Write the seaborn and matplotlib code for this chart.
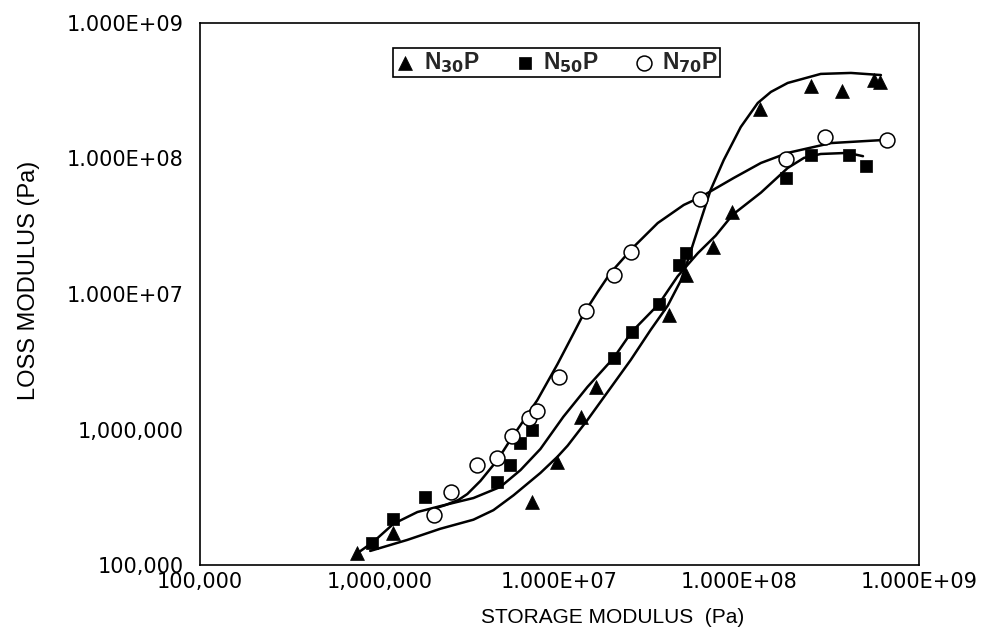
import numpy as np
import pandas as pd
import matplotlib
matplotlib.use("Agg")
import matplotlib.pyplot as plt
import seaborn as sns
from matplotlib.ticker import FixedLocator, FixedFormatter, NullLocator

# ---------------- data ----------------
tick_values = [1e5, 1e6, 1e7, 1e8, 1e9]
tick_labels = ["100,000", "1,000,000", "1.000E+07", "1.000E+08", "1.000E+09"]

series_names = [r"N$_{30}$P", r"N$_{50}$P", r"N$_{70}$P"]

# N30P measured points
n30_x = [7.5e5, 1.19e6, 7.05e6, 9.7e6, 1.31e7, 1.59e7, 4.06e7, 5.04e7, 7.1e7, 9.16e7,
         1.31e8, 2.5e8, 3.71e8, 5.6e8, 6.1e8]
n30_y = [1.23e5, 1.73e5, 2.93e5, 5.78e5, 1.24e6, 2.07e6, 7.0e6, 1.38e7, 2.23e7, 4.05e7,
         2.31e8, 3.43e8, 3.16e8, 3.8e8, 3.69e8]

# N50P measured points
n50_x = [9.06e5, 1.19e6, 1.79e6, 4.5e6, 5.33e6, 6.01e6, 7.05e6, 2.0e7, 2.52e7, 3.57e7,
         4.62e7, 5.04e7, 1.82e8, 2.5e8, 4.06e8, 5.07e8]
n50_y = [1.46e5, 2.17e5, 3.19e5, 4.12e5, 5.47e5, 7.9e5, 9.9e5, 3.35e6, 5.27e6, 8.44e6,
         1.64e7, 2.0e7, 7.22e7, 1.06e8, 1.06e8, 8.8e7]

# N70P measured points
n70_x = [2.01e6, 2.49e6, 3.48e6, 4.5e6, 5.46e6, 6.75e6, 7.5e6, 9.9e6, 1.40e7, 2.0e7,
         2.51e7, 6.05e7, 1.82e8, 3.0e8, 6.6e8]
n70_y = [2.34e5, 3.47e5, 5.47e5, 6.12e5, 8.95e5, 1.21e6, 1.38e6, 2.43e6, 7.53e6, 1.38e7,
         2.05e7, 5.0e7, 1.0e8, 1.45e8, 1.37e8]

# fitted curves
n30_curve_x = [8.85e5, 1.42e6, 2.17e6, 3.32e6, 4.29e6, 5.55e6, 7.83e6, 9.75e6, 1.11e7, 1.43e7,
               1.92e7, 2.49e7, 3.21e7, 4.0e7, 4.72e7, 5.16e7, 5.88e7, 6.93e7, 8.2e7, 1.019e8,
               1.268e8, 1.5e8, 1.86e8, 2.84e8, 4.18e8, 6.14e8]
n30_curve_y = [1.27e5, 1.53e5, 1.85e5, 2.16e5, 2.54e5, 3.27e5, 4.78e5, 6.3e5, 7.6e5, 1.175e6,
               2.02e6, 3.26e6, 5.42e6, 8.2e6, 1.25e7, 1.75e7, 3.0e7, 5.86e7, 9.75e7, 1.706e8,
               2.57e8, 3.1e8, 3.61e8, 4.21e8, 4.28e8, 4.13e8]

n50_curve_x = [7.3e5, 9.2e5, 1.19e6, 1.62e6, 2.17e6, 2.7e6, 3.32e6, 4.69e6, 6.07e6, 7.83e6,
               1.05e7, 1.43e7, 2.0e7, 2.52e7, 3.57e7, 4.54e7, 5.88e7, 7.4e7, 9.2e7, 1.32e8,
               1.86e8, 2.29e8, 2.84e8, 4.02e8, 4.88e8]
n50_curve_y = [1.19e5, 1.48e5, 2.01e5, 2.46e5, 2.72e5, 2.92e5, 3.12e5, 3.77e5, 5.02e5, 7.18e5,
               1.24e6, 2.06e6, 3.37e6, 5.25e6, 8.43e6, 1.35e7, 2.0e7, 2.7e7, 3.85e7, 5.6e7,
               8.51e7, 1.01e8, 1.08e8, 1.10e8, 1.04e8]

n70_curve_x = [1.91e6, 2.32e6, 2.74e6, 3.07e6, 3.63e6, 4.52e6, 5.33e6, 6.07e6, 7.53e6, 9.75e6,
               1.2e7, 1.36e7, 1.63e7, 1.92e7, 2.58e7, 3.52e7, 4.91e7, 6.11e7, 9.31e7, 1.32e8,
               1.86e8, 3.24e8, 6.38e8]
n70_curve_y = [2.55e5, 2.77e5, 3.02e5, 3.34e5, 4.17e5, 5.96e5, 8.38e5, 1.079e6, 1.65e6, 3.04e6,
               5.15e6, 7.11e6, 1.035e7, 1.43e7, 2.22e7, 3.34e7, 4.54e7, 5.2e7, 7.18e7, 9.27e7,
               1.1e8, 1.3e8, 1.37e8]

# ---------------- styling ----------------
sns.set_theme(style="white")
plt.rcParams['font.family'] = ['Liberation Sans', 'DejaVu Sans']
plt.rcParams['mathtext.fontset'] = 'custom'
plt.rcParams['mathtext.rm'] = 'DejaVu Sans:bold'
plt.rcParams['mathtext.default'] = 'rm'

fig = plt.figure(figsize=(9.87, 6.41), dpi=100)
fig.patch.set_facecolor('white')
ax = fig.add_axes([200 / 987, 1 - 565 / 641, 719 / 987, 542 / 641])
ax.set_xscale('log')
ax.set_yscale('log')

curves = [(n30_curve_x, n30_curve_y), (n50_curve_x, n50_curve_y), (n70_curve_x, n70_curve_y)]
for cx, cy in curves:
    sns.lineplot(x=cx, y=cy, sort=False, estimator=None, color='black', lw=1.8, ax=ax, zorder=2)

sns.scatterplot(x=n30_x, y=n30_y, marker='^', s=100, color='black', edgecolor='black',
                linewidth=0.5, ax=ax, label=series_names[0], zorder=3)
sns.scatterplot(x=n50_x, y=n50_y, marker='s', s=85, color='black', edgecolor='black',
                linewidth=0.5, ax=ax, label=series_names[1], zorder=3)
sns.scatterplot(x=n70_x, y=n70_y, marker='o', s=115, facecolor='white', edgecolor='black',
                linewidth=1.1, ax=ax, label=series_names[2], zorder=4)

ax.set_xlim(1e5, 1e9)
ax.set_ylim(1e5, 1e9)
for axis in (ax.xaxis, ax.yaxis):
    axis.set_major_locator(FixedLocator(tick_values))
    axis.set_major_formatter(FixedFormatter(tick_labels))
    axis.set_minor_locator(NullLocator())

ax.tick_params(axis='x', length=0, pad=5, labelsize=15, labelcolor='black')
ax.tick_params(axis='y', length=0, pad=12, labelsize=15, labelcolor='black')
for lab in ax.get_xticklabels() + ax.get_yticklabels():
    lab.set_family(['DejaVu Sans'])

for sp in ax.spines.values():
    sp.set_visible(True)
    sp.set_color('black')
    sp.set_linewidth(1.2)

ax.set_xlabel("STORAGE MODULUS  (Pa)", fontsize=15, color='black')
ax.set_ylabel("LOSS MODULUS (Pa)", fontsize=17, color='black')
ax.xaxis.label.set_va('center')
ax.yaxis.label.set_va('center')
ax.xaxis.set_label_coords(0.574, -0.097)
ax.yaxis.set_label_coords(-0.238, 0.525)

leg = ax.legend(ncol=3, loc='upper center', bbox_to_anchor=(0.496, 0.954),
                borderaxespad=0.0, frameon=True, fancybox=False, framealpha=1,
                edgecolor='black', prop={'size': 16.5, 'weight': 'bold'},
                handletextpad=0.35, columnspacing=1.5, borderpad=0.1, handlelength=0.9)
leg.get_frame().set_linewidth(1.2)

fig.savefig("out.png", dpi=100, facecolor='white')
